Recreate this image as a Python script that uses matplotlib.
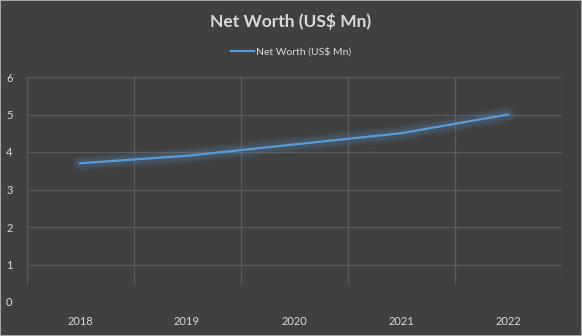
import matplotlib.pyplot as plt

years = ['2018', '2019', '2020', '2021', '2022']
net_worth = [3.7, 3.9, 4.2, 4.5, 5.0]
series_name = 'Net Worth (US$ Mn)'

bg = '#404040'
txt = '#d9d9d9'
grid_c = '#5a5a5a'
line_c = '#5b9bd5'

plt.rcParams['font.family'] = ['Lato', 'DejaVu Sans']

fig = plt.figure(figsize=(5.82, 3.36), dpi=100, facecolor=bg)
ax = fig.add_axes([26.5 / 582, 1 - 302 / 336, 535 / 582, 225 / 336])
ax.set_facecolor(bg)

x = list(range(len(years)))
# soft glow under the line
for w, a in [(12, 0.06), (9, 0.08), (6, 0.12)]:
    ax.plot(x, net_worth, color=line_c, lw=w, alpha=a, solid_capstyle='round')
ax.plot(x, net_worth, color=line_c, lw=1.6, label=series_name, zorder=5)

ax.set_xlim(-0.5, len(years) - 0.5)
ax.set_ylim(0, 6)
ax.set_xticks(x)
ax.set_xticklabels(years)
ax.set_yticks(range(0, 7))
ax.grid(axis='y', color=grid_c, lw=0.9)
ax.get_ygridlines()[0].set_visible(False)
# category separators, stopping a little above the baseline like the original
ax.vlines([i - 0.5 for i in range(len(years) + 1)], 0.45, 6, color=grid_c, lw=0.9, zorder=0.5)
ax.tick_params(which='both', length=0, colors=txt, labelsize=8)
ax.tick_params(axis='x', pad=10)
ax.tick_params(axis='y', pad=10)
for s in ax.spines.values():
    s.set_visible(False)

fig.text(0.5, 1 - 21 / 336, 'Net Worth (US$ Mn)', ha='center', va='center',
         color=txt, fontsize=12.5, fontweight='bold')
fig.legend(loc='center', bbox_to_anchor=(0.5, 1 - 52 / 336), frameon=False,
           fontsize=7.5, labelcolor=txt, handlelength=2.2, handletextpad=0.2)

# light frame of the chart area
fig.patches.append(plt.Rectangle((0, 0), 1, 1, transform=fig.transFigure,
                                 fill=False, edgecolor='#a6a6a6', lw=1.5))

fig.savefig('out.png', dpi=100, facecolor=bg)
